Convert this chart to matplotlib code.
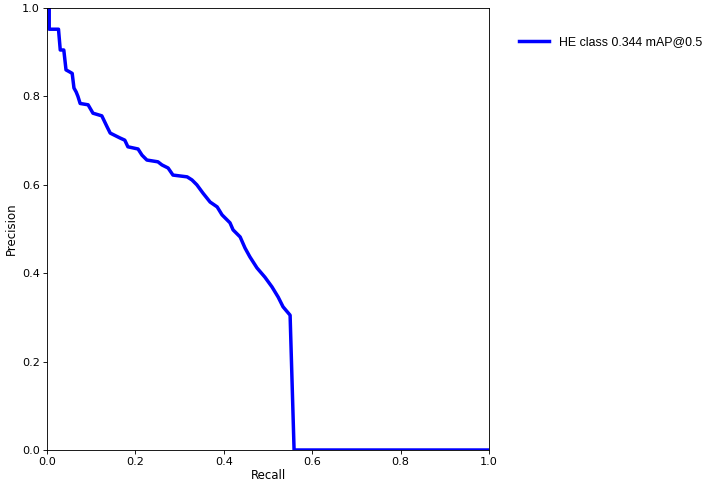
import matplotlib
matplotlib.use("Agg")
import matplotlib.pyplot as plt

# PR curve
RECALL = [0.0, 0.005, 0.005, 0.026, 0.030, 0.038, 0.043, 0.052, 0.057, 0.061,
          0.066, 0.070, 0.075, 0.093, 0.104, 0.124, 0.136, 0.143, 0.165, 0.176,
          0.183, 0.206, 0.215, 0.226, 0.251, 0.260, 0.274, 0.285, 0.317, 0.328,
          0.339, 0.353, 0.369, 0.385, 0.396, 0.414, 0.421, 0.437, 0.448, 0.459,
          0.475, 0.493, 0.509, 0.523, 0.534, 0.550, 0.559, 1.0]
PRECISION = [1.0, 1.0, 0.952, 0.952, 0.905, 0.905, 0.860, 0.855, 0.852, 0.819,
             0.810, 0.800, 0.784, 0.781, 0.762, 0.756, 0.731, 0.717, 0.706, 0.701,
             0.686, 0.681, 0.667, 0.656, 0.652, 0.645, 0.638, 0.622, 0.618, 0.611,
             0.600, 0.581, 0.561, 0.550, 0.532, 0.514, 0.498, 0.482, 0.457, 0.437,
             0.412, 0.391, 0.369, 0.346, 0.324, 0.305, 0.0, 0.0]
LABEL = "HE class 0.344 mAP@0.5"

TICK_FS = 8.1
LABEL_FS = 8.5
W, H = 708, 487

fig = plt.figure(figsize=(W / 100, H / 100), dpi=100)
ax = fig.add_axes([47 / W, (H - 450) / H, 442 / W, 442 / H])
ax.plot(RECALL, PRECISION, color="blue", linewidth=2.5, label=LABEL)

ax.set_xlim(0, 1)
ax.set_ylim(0, 1)
ax.set_xlabel("Recall", fontsize=LABEL_FS, labelpad=1.5)
ax.set_ylabel("Precision", fontsize=LABEL_FS, labelpad=2.5)
ax.tick_params(labelsize=TICK_FS, length=2.75, width=0.63, pad=2.5)
for spine in ax.spines.values():
    spine.set_linewidth(0.63)

ax.legend(loc="center left", bbox_to_anchor=(508 / W, 1 - 42 / H),
          bbox_transform=fig.transFigure, frameon=False,
          prop={"family": "Liberation Sans", "size": 8.9},
          handlelength=2.4, handletextpad=0.8)

fig.savefig("out.png", dpi=100)
